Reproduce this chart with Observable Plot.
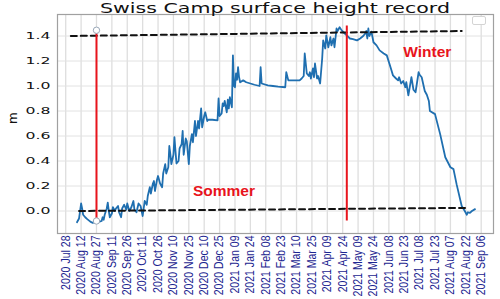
<!DOCTYPE html>
<html><head><meta charset="utf-8">
<script src="https://cdn.jsdelivr.net/npm/d3@7"></script>
<script src="https://cdn.jsdelivr.net/npm/@observablehq/plot@0.6"></script>
<style>
body{margin:0;background:#fff;}
#wrap{position:relative;width:500px;height:299px;overflow:hidden;}
#title{position:absolute;left:0;top:0;font-family:"DejaVu Sans";font-size:14px;line-height:16px;white-space:nowrap;color:#111;transform-origin:0 0;}
#legendbox{position:absolute;left:472px;top:16px;width:12px;height:7px;border:1px solid #d4d4d4;border-radius:2px;background:#fff;}
</style></head><body>
<div id="wrap"><div id="title">Swiss Camp surface height record</div></div>
<script>
// ---- data ----
const dates = ["2020-08-08","2020-08-10","2020-08-12","2020-08-13","2020-08-14","2020-08-16","2020-08-18","2020-08-21","2020-08-23","2020-08-26","2020-08-28","2020-08-30","2020-09-01","2020-09-02","2020-09-03","2020-09-04","2020-09-06","2020-09-07","2020-09-08","2020-09-09","2020-09-11","2020-09-12","2020-09-14","2020-09-15","2020-09-17","2020-09-18","2020-09-20","2020-09-21","2020-09-23","2020-09-25","2020-09-26","2020-09-28","2020-09-30","2020-10-02","2020-10-03","2020-10-05","2020-10-07","2020-10-09","2020-10-10","2020-10-11","2020-10-13","2020-10-15","2020-10-16","2020-10-18","2020-10-19","2020-10-21","2020-10-22","2020-10-23","2020-10-25","2020-10-26","2020-10-28","2020-10-30","2020-10-31","2020-11-02","2020-11-03","2020-11-05","2020-11-06","2020-11-07","2020-11-08","2020-11-10","2020-11-11","2020-11-12","2020-11-13","2020-11-15","2020-11-16","2020-11-18","2020-11-19","2020-11-20","2020-11-22","2020-11-23","2020-11-25","2020-11-26","2020-11-28","2020-11-29","2020-12-01","2020-12-02","2020-12-04","2020-12-05","2020-12-07","2020-12-08","2020-12-10","2020-12-11","2020-12-13","2020-12-14","2020-12-18","2020-12-23","2020-12-24","2020-12-25","2020-12-27","2020-12-28","2020-12-29","2020-12-30","2021-01-01","2021-01-02","2021-01-03","2021-01-04","2021-01-06","2021-01-07","2021-01-08","2021-01-09","2021-01-10","2021-01-11","2021-01-12","2021-01-13","2021-01-14","2021-01-17","2021-01-20","2021-01-24","2021-01-28","2021-02-02","2021-02-03","2021-02-04","2021-02-10","2021-02-15","2021-02-20","2021-02-27","2021-02-28","2021-03-02","2021-03-07","2021-03-13","2021-03-15","2021-03-17","2021-03-18","2021-03-20","2021-03-22","2021-03-23","2021-03-24","2021-03-26","2021-03-27","2021-03-28","2021-03-30","2021-03-31","2021-04-02","2021-04-04","2021-04-05","2021-04-07","2021-04-08","2021-04-10","2021-04-12","2021-04-13","2021-04-15","2021-04-16","2021-04-18","2021-04-19","2021-04-21","2021-04-23","2021-04-26","2021-04-28","2021-05-01","2021-05-04","2021-05-08","2021-05-11","2021-05-14","2021-05-16","2021-05-17","2021-05-18","2021-05-19","2021-05-20","2021-05-22","2021-05-24","2021-05-27","2021-05-30","2021-06-03","2021-06-06","2021-06-10","2021-06-12","2021-06-15","2021-06-17","2021-06-18","2021-06-20","2021-06-22","2021-06-24","2021-06-25","2021-06-27","2021-06-30","2021-07-02","2021-07-04","2021-07-07","2021-07-08","2021-07-10","2021-07-13","2021-07-15","2021-07-17","2021-07-18","2021-07-23","2021-07-28","2021-08-02","2021-08-07","2021-08-10","2021-08-13","2021-08-18","2021-08-21","2021-08-23","2021-08-24","2021-08-26","2021-08-28","2021-08-31"];
const heights = [-0.09,-0.06,0.06,0.02,-0.03,-0.05,-0.065,-0.085,-0.094,-0.09,-0.094,-0.085,-0.08,-0.05,-0.07,-0.03,0.02,0.067,0.0,-0.05,-0.02,0.03,0.0,0.02,0.04,-0.01,-0.05,0.02,0.05,0.01,0.06,0.0,0.03,0.08,0.01,-0.01,0.06,0.04,0.0,-0.04,0.08,0.05,0.12,0.19,0.14,0.22,0.24,0.16,0.25,0.28,0.22,0.19,0.30,0.375,0.30,0.35,0.52,0.455,0.375,0.45,0.59,0.48,0.38,0.40,0.50,0.535,0.64,0.45,0.58,0.56,0.375,0.52,0.615,0.55,0.72,0.60,0.72,0.66,0.82,0.67,0.76,0.79,0.72,0.73,0.73,0.725,0.90,0.76,0.78,0.86,0.84,0.88,0.79,0.89,0.82,0.91,0.83,1.245,1.00,0.99,1.10,1.05,1.15,1.07,1.03,1.045,1.03,1.02,1.01,1.00,1.15,1.02,1.005,1.00,0.995,0.99,1.11,1.045,1.045,1.045,1.06,1.08,1.26,1.10,1.08,1.11,1.06,1.14,1.07,1.18,1.06,1.08,1.02,1.22,1.365,1.30,1.405,1.31,1.39,1.325,1.38,1.31,1.46,1.44,1.47,1.445,1.42,1.405,1.38,1.375,1.365,1.38,1.40,1.42,1.44,1.38,1.46,1.40,1.435,1.35,1.325,1.285,1.26,1.245,1.14,1.085,1.06,1.045,1.07,1.02,1.04,0.99,1.03,0.925,1.07,0.97,0.95,1.11,1.09,1.07,0.96,0.93,0.88,0.80,0.775,0.615,0.43,0.35,0.335,0.215,0.04,0.0,-0.03,-0.01,-0.015,0.0,0.015];

// season markers (red vertical lines)
const markerDates = ["2020-08-27","2021-04-28"];
const markerLow = [-0.08,-0.08];
const markerHigh = [1.446,1.48];
// reference dashed lines (start/end)
const topDashDates = ["2020-08-02","2021-08-18"];
const topDashValues = [1.40,1.44];
const bottomDashDates = ["2020-08-10","2021-08-24"];
const bottomDashValues = [0.0,0.025];
// annotations
const labelTexts = ["Sommer","Winter"];
const labelDates = ["2020-11-29","2021-06-22"];
const labelValues = [0.16,1.27];
// axes
const xTickDates = ["2020-07-28","2020-08-12","2020-08-27","2020-09-11","2020-09-26","2020-10-11","2020-10-26","2020-11-10","2020-11-25","2020-12-10","2020-12-25","2021-01-09","2021-01-24","2021-02-08","2021-02-23","2021-03-10","2021-03-25","2021-04-09","2021-04-24","2021-05-09","2021-05-24","2021-06-08","2021-06-23","2021-07-08","2021-07-23","2021-08-07","2021-08-22","2021-09-06"];
const yTicks = [0.0,0.2,0.4,0.6,0.8,1.0,1.2,1.4];
const xDomain = ["2020-07-20","2021-09-18"];
const yDomain = [-0.18,1.572];

const P = s => new Date(s + "T00:00:00Z");
const series = dates.map((d,i) => ({date: P(d), h: heights[i]}));
const markers = markerDates.map((d,i) => ({date: P(d), lo: markerLow[i], hi: markerHigh[i]}));
const topDash = topDashDates.map((d,i) => ({date: P(d), v: topDashValues[i]}));
const botDash = bottomDashDates.map((d,i) => ({date: P(d), v: bottomDashValues[i]}));
const labels = labelTexts.map((t,i) => ({t, date: P(labelDates[i]), v: labelValues[i]}));
const xt = xTickDates.map(P);
const fmt = d3.utcFormat("%Y %b %d");
const red = "#e8141c";

const chart = Plot.plot({
  width: 500, height: 299,
  marginTop: 14, marginBottom: 66, marginLeft: 57, marginRight: 7,
  style: {background: "#fff", fontFamily: "DejaVu Sans"},
  x: {type: "utc", domain: xDomain.map(P)},
  y: {domain: yDomain},
  marks: [
    Plot.gridX(xt, {stroke: "#dedede", strokeOpacity: 1, strokeWidth: 1.3}),
    Plot.gridY(yTicks, {stroke: "#e2e2e2", strokeOpacity: 1, strokeWidth: 1}),
    Plot.axisX(xt, {tickSize: 0, tickPadding: 2, tickRotate: -90, tickFormat: fmt, label: null,
      fill: "#1c2590", fontSize: 12, fontFamily: "Liberation Sans Narrow, Arial Narrow, Liberation Sans, sans-serif"}),
    Plot.axisY(yTicks, {tickSize: 0, tickPadding: 7, tickFormat: d3.format(".1f"), label: null,
      fill: "#111", fontSize: 9.5}),
    Plot.text(["m"], {frameAnchor: "left", dx: -44, rotate: -90, fontSize: 12, fill: "#111"}),
    Plot.line(series, {x: "date", y: "h", stroke: "#1f6fb0", strokeWidth: 1.8}),
    Plot.line(topDash, {x: "date", y: "v", stroke: "#111", strokeWidth: 2, strokeDasharray: "6,4"}),
    Plot.line(botDash, {x: "date", y: "v", stroke: "#111", strokeWidth: 2, strokeDasharray: "6,4"}),
    Plot.ruleX(markers, {x: "date", y1: "lo", y2: "hi", stroke: red, strokeWidth: 2}),
    Plot.dot([markers[0]], {x: "date", y: "hi", r: 3.2, stroke: "#9aa8b8", fill: "#fff", strokeWidth: 1}),
    Plot.dot([markers[0]], {x: "date", y: "lo", r: 3.2, stroke: "#9aa8b8", fill: "#fff", strokeWidth: 1}),
    Plot.text(labels, {x: "date", y: "v", text: "t", textAnchor: "start", fill: red, fontSize: 15.5,
      fontWeight: "bold", fontFamily: "Liberation Sans, Arial, sans-serif"}),
    Plot.frame({stroke: "#a0a0a0", strokeWidth: 1.2})
  ]
});
const wrap = document.getElementById("wrap");
wrap.insertBefore(chart, wrap.firstChild);
chart.style.position = "absolute"; chart.style.left = "0"; chart.style.top = "0";
const lb = document.createElement("div"); lb.id = "legendbox"; wrap.appendChild(lb);

// stretch the y tick labels horizontally like the reference image
d3.select(chart).selectAll('g[aria-label="y-axis tick label"] text').each(function() {
  const w = this.getComputedTextLength();
  const s = 25 / w;
  const t = this.getAttribute("transform") || "";
  this.setAttribute("transform", t + ` scale(${s},1)`);
});
// x tick labels: fit the longest label into the space below the axis
const xlabs = d3.select(chart).selectAll('g[aria-label="x-axis tick label"] text');
let maxLen = 0;
xlabs.each(function() { maxLen = Math.max(maxLen, this.getComputedTextLength()); });
const xs = Math.min(1, 61 / maxLen);
xlabs.each(function() {
  const t = this.getAttribute("transform") || "";
  this.setAttribute("transform", t + ` scale(${xs},1)`);
});
// title: stretched to span the reference width
const title = document.getElementById("title");
const tw = title.getBoundingClientRect().width;
title.style.transform = `translate(100px,0) scale(${350/tw},1)`;
</script></body></html>
